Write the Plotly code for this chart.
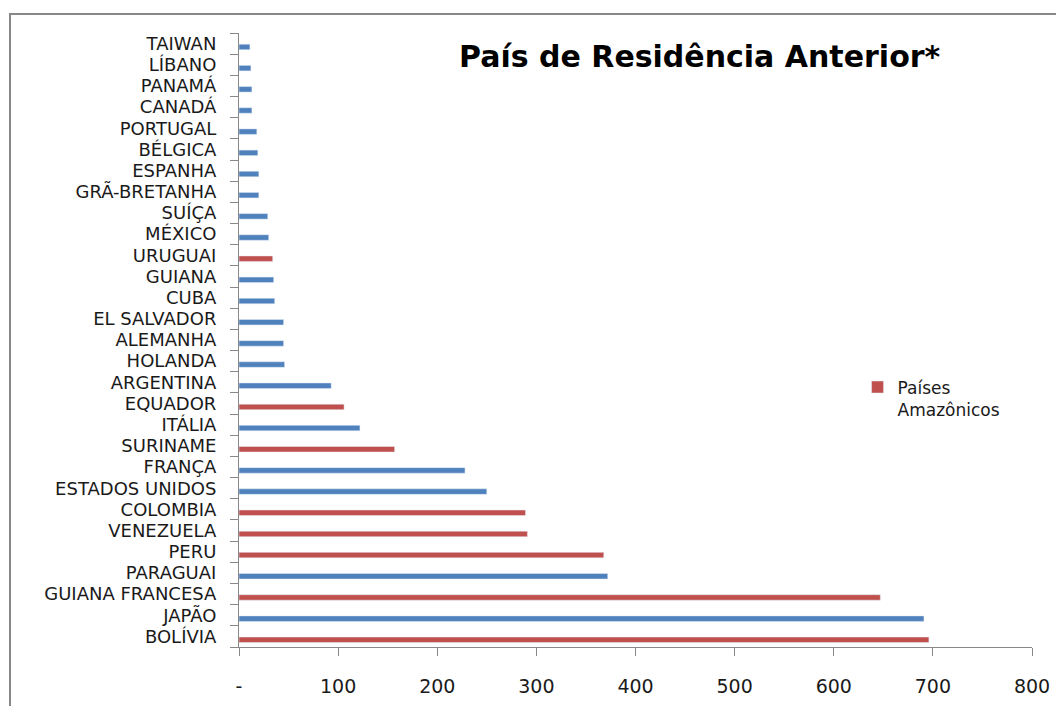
import plotly.graph_objects as go

# categories bottom -> top
countries = ["BOLÍVIA", "JAPÃO", "GUIANA FRANCESA", "PARAGUAI", "PERU", "VENEZUELA",
             "COLOMBIA", "ESTADOS UNIDOS", "FRANÇA", "SURINAME", "ITÁLIA", "EQUADOR",
             "ARGENTINA", "HOLANDA", "ALEMANHA", "EL SALVADOR", "CUBA", "GUIANA",
             "URUGUAI", "MÉXICO", "SUÍÇA", "GRÃ-BRETANHA", "ESPANHA", "BÉLGICA",
             "PORTUGAL", "CANADÁ", "PANAMÁ", "LÍBANO", "TAIWAN"]
values = [696, 691, 647, 372, 368, 291, 289, 250, 228, 157, 122, 106,
          93, 46, 45, 45, 36, 35, 34, 30, 29, 20, 20, 19, 18, 13, 13, 12, 11]
amazonico = [True, False, True, False, True, True, True, False, False, True, False, True,
             False, False, False, False, False, False, True, False, False, False, False, False,
             False, False, False, False, False]
x_tick_vals = [0, 100, 200, 300, 400, 500, 600, 700, 800]
x_tick_text = ["-", "100", "200", "300", "400", "500", "600", "700", "800"]
title_text = "País de Residência Anterior*"
legend_name = "Países<br>Amazônicos"

RED = "#C0504D"
BLUE = "#4F81BD"
FONT = "DejaVu Sans"

am_y = [c for c, a in zip(countries, amazonico) if a]
am_x = [v for v, a in zip(values, amazonico) if a]
ot_y = [c for c, a in zip(countries, amazonico) if not a]
ot_x = [v for v, a in zip(values, amazonico) if not a]

fig = go.Figure()
fig.add_trace(go.Bar(y=ot_y, x=ot_x, orientation="h", marker_color=BLUE,
                     offset=-0.29, width=0.26, showlegend=False, name=""))
fig.add_trace(go.Bar(y=am_y, x=am_x, orientation="h", marker_color=RED,
                     offset=-0.29, width=0.26, showlegend=True, name=legend_name))

fig.update_layout(
    width=1056, height=706,
    margin=dict(l=239, r=24, t=33, b=59, autoexpand=False),
    paper_bgcolor="white", plot_bgcolor="white",
    barmode="overlay",
    font=dict(family=FONT, size=18, color="#1a1a1a"),
    xaxis=dict(range=[0, 800], tickvals=x_tick_vals, ticktext=x_tick_text,
               showgrid=False, zeroline=False, showline=True, linecolor="#888888",
               linewidth=1, ticks="outside", ticklen=8, tickcolor="#888888",
               ticklabelstandoff=14, automargin=False,
               tickfont=dict(family=FONT, size=19)),
    yaxis=dict(categoryorder="array", categoryarray=countries, type="category",
               range=[-0.5, len(countries) - 0.5], dtick=1, tick0=0,
               showgrid=False, zeroline=False, showline=True, linecolor="#888888",
               linewidth=1, ticks="outside", ticklen=8, tickcolor="#888888",
               tickson="boundaries", ticklabelstandoff=18, automargin=False,
               tickfont=dict(family=FONT, size=18)),
    legend=dict(x=0.78, y=0.452, xanchor="left", yanchor="top", valign="top",
                font=dict(family=FONT, size=17, color="#1a1a1a"),
                bgcolor="rgba(0,0,0,0)", itemwidth=30),
    shapes=[dict(type="rect", xref="paper", yref="paper",
                 x0=(10 - 239) / 793, x1=(1070 - 239) / 793,
                 y0=(647 - 720) / 614, y1=(647 - 14) / 614,
                 line=dict(color="#888888", width=2), fillcolor="rgba(0,0,0,0)")],
    annotations=[dict(text="<b>" + title_text + "</b>", xref="paper", yref="paper",
                      x=(700 - 239) / 793, y=(647 - 56) / 614, xanchor="center",
                      yanchor="middle", showarrow=False,
                      font=dict(family=FONT, size=30, color="#000000"))],
)

fig.write_html("out.html", config={"displayModeBar": False},
               post_script="document.body.style.margin='0';")
